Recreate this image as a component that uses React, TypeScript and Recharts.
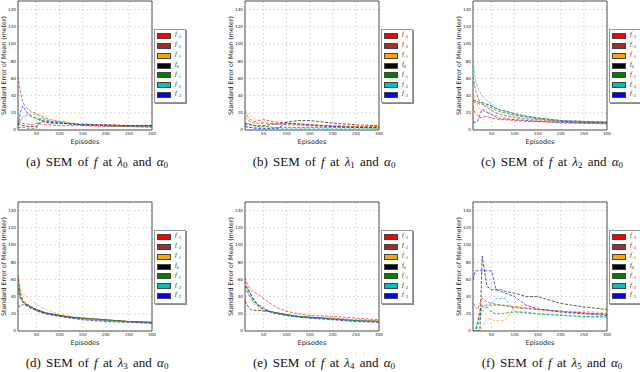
import React from "react"
import { LineChart, Line, XAxis, YAxis, CartesianGrid, ReferenceArea } from "recharts"

// Episodios muestreados (eje X) y marcas de ejes
const episodes = [10, 15, 20, 25, 30, 40, 50, 60, 70, 80, 100, 125, 150, 200, 250, 300]
const xTicks = [50, 100, 150, 200, 250, 300]
const yTicks = [0, 20, 40, 60, 80, 100, 120, 140]

// Series f_{-3} .. f_{+3}
const seriesSubs = ["−3", "−2", "−1", "0", "+1", "+2", "+3"]
const seriesColors = ["#ff0000", "#a52a2a", "#ffa500", "#000000", "#008000", "#00bfbf", "#0000ff"]

// (a) λ0
const semA = [
  [10, 9, 8, 7, 7, 6, 8, 7, 6, 6, 5, 5, 5, 4, 4, 4],
  [62, 45, 33, 28, 25, 21, 19, 16, 14, 12, 10, 8, 7, 6, 5, 5],
  [8, 12, 15, 16, 17, 18, 18, 16, 14, 12, 10, 8, 7, 6, 5, 5],
  [8, 6, 5, 5, 4, 4, 4, 10, 9, 8, 8, 7, 6, 5, 5, 5],
  [3, 3, 3, 3, 2, 2, 2, 14, 12, 10, 9, 7, 6, 5, 4, 3],
  [5, 10, 15, 18, 17, 15, 14, 12, 11, 10, 9, 7, 6, 5, 5, 4],
  [5, 20, 28, 24, 20, 16, 13, 11, 10, 9, 8, 7, 6, 6, 5, 5],
]

// (b) λ1
const semB = [
  [22, 16, 13, 11, 10, 11, 12, 11, 10, 9, 8, 7, 6, 5, 4, 4],
  [15, 12, 10, 9, 8, 8, 8, 8, 7, 7, 6, 6, 5, 4, 4, 3],
  [12, 18, 19, 16, 14, 11, 9, 8, 8, 7, 7, 6, 6, 5, 4, 4],
  [8, 7, 6, 6, 5, 5, 5, 6, 7, 7, 9, 11, 11, 8, 6, 5],
  [5, 8, 7, 6, 5, 4, 4, 4, 3, 3, 3, 3, 3, 3, 3, 2],
  [3, 3, 3, 3, 3, 2, 2, 2, 2, 2, 2, 2, 2, 2, 2, 2],
  [5, 4, 3, 3, 2, 2, 2, 2, 2, 2, 8, 7, 6, 4, 3, 3],
]

// (c) λ2
const semC = [
  [28, 20, 17, 14, 15, 16, 14, 13, 12, 12, 11, 10, 10, 8, 8, 7],
  [62, 48, 38, 33, 30, 26, 23, 20, 18, 17, 15, 13, 12, 10, 9, 8],
  [45, 35, 28, 24, 22, 20, 18, 17, 16, 15, 14, 12, 11, 10, 9, 9],
  [35, 34, 33, 32, 32, 30, 28, 25, 23, 22, 19, 16, 14, 11, 10, 9],
  [33, 32, 31, 30, 30, 28, 26, 23, 21, 20, 17, 15, 13, 10, 9, 9],
  [80, 60, 50, 44, 40, 34, 30, 26, 23, 22, 18, 16, 14, 11, 10, 9],
  [9, 9, 10, 18, 24, 21, 18, 15, 13, 13, 12, 11, 10, 9, 8, 8],
]

// (d) λ3
const semD = [
  [65, 45, 36, 33, 31, 28, 25, 23, 21, 20, 18, 16, 15, 13, 11, 10],
  [62, 40, 33, 31, 30, 27, 24, 22, 21, 20, 18, 16, 14, 12, 11, 10],
  [58, 48, 43, 41, 39, 35, 31, 28, 25, 23, 20, 17, 15, 13, 11, 10],
  [50, 38, 34, 32, 30, 27, 25, 23, 21, 20, 18, 16, 15, 13, 11, 10],
  [60, 42, 36, 33, 31, 28, 25, 23, 21, 20, 18, 16, 15, 13, 11, 10],
  [55, 40, 34, 31, 29, 26, 23, 21, 20, 19, 17, 15, 14, 12, 11, 9],
  [30, 28, 31, 30, 29, 26, 24, 22, 20, 19, 17, 15, 13, 11, 10, 9],
]

// (e) λ4
const semE = [
  [62, 55, 50, 47, 45, 42, 38, 34, 30, 27, 23, 20, 18, 17, 15, 13],
  [58, 50, 44, 40, 36, 30, 27, 24, 22, 21, 19, 17, 16, 15, 13, 12],
  [55, 50, 45, 38, 30, 25, 24, 23, 22, 21, 19, 17, 16, 14, 13, 12],
  [35, 30, 26, 24, 24, 24, 23, 23, 22, 21, 19, 17, 16, 14, 12, 11],
  [52, 45, 40, 36, 33, 28, 25, 23, 22, 21, 19, 17, 16, 14, 12, 11],
  [45, 48, 42, 38, 35, 30, 27, 24, 22, 20, 18, 17, 15, 14, 12, 11],
  [52, 50, 46, 40, 35, 29, 25, 23, 21, 20, 18, 16, 15, 13, 11, 10],
]

// (f) λ5
const semF = [
  [32, 28, 25, 32, 38, 34, 32, 31, 30, 30, 28, 27, 25, 23, 21, 20],
  [0, 0, 10, 25, 30, 30, 30, 30, 30, 29, 27, 26, 25, 23, 21, 19],
  [0, 0, 0, 0, 5, 15, 13, 12, 12, 12, 28, 30, 25, 22, 23, 21],
  [0, 0, 0, 0, 87, 52, 48, 48, 48, 46, 44, 40, 40, 32, 28, 25],
  [0, 0, 10, 20, 28, 28, 22, 20, 20, 21, 22, 21, 20, 18, 17, 16],
  [0, 0, 5, 15, 22, 28, 32, 38, 38, 38, 23, 22, 20, 19, 16, 17],
  [60, 70, 70, 70, 70, 70, 70, 48, 46, 44, 40, 30, 26, 22, 20, 18],
]

const panelData = [semA, semB, semC, semD, semE, semF]
const panelLetters = ["a", "b", "c", "d", "e", "f"]
const panelLambdas = ["0", "1", "2", "3", "4", "5"]

const COL_X = [0, 227, 455]
const ROW_Y = [0, 201]

function buildRows(sem: number[][]) {
  return episodes.map((ep, i) => {
    const row: Record<string, number> = { ep }
    sem.forEach((s, k) => {
      row[`s${k}`] = s[i]
    })
    return row
  })
}

// subíndice que no agranda la línea
const subStyle: React.CSSProperties = {
  fontSize: 9,
  verticalAlign: "baseline",
  position: "relative",
  top: 2,
  lineHeight: 0,
}

function Legend7() {
  return (
    <div
      style={{
        position: "absolute",
        left: 154,
        top: 29,
        width: 30,
        height: 72,
        background: "#fff",
        border: "1px solid #999",
        boxShadow: "1px 1px 0 #888",
      }}
    >
      {seriesSubs.map((sub, k) => (
        <div
          key={k}
          style={{ position: "absolute", left: 2, top: 3 + k * 9.85, height: 6, display: "flex", alignItems: "center" }}
        >
          <div
            style={{
              width: 12,
              height: 4,
              background: seriesColors[k],
              border: "0.8px solid #444",
            }}
          />
          <span
            style={{
              marginLeft: 4,
              fontFamily: "Liberation Serif",
              fontStyle: "italic",
              fontSize: 6.5,
              color: "#222",
              lineHeight: "6px",
            }}
          >
            f<sub style={{ fontSize: 4, fontStyle: "normal" }}>{sub}</sub>
          </span>
        </div>
      ))}
    </div>
  )
}

function Panel({ idx }: { idx: number }) {
  const left = COL_X[idx % 3]
  const top = ROW_Y[Math.floor(idx / 3)]
  const rows = buildRows(panelData[idx])
  return (
    <div style={{ position: "absolute", left, top, width: 190, height: 170 }}>
      <LineChart width={190} height={146} data={rows} margin={{ top: 1, right: 38, bottom: 0, left: 0 }}>
        <CartesianGrid strokeDasharray="2 2" stroke="#c4c4c4" strokeWidth={0.6} />
        <XAxis
          dataKey="ep"
          type="number"
          domain={[10, 300]}
          ticks={xTicks}
          interval={0}
          allowDataOverflow
          axisLine={false}
          tickLine={false}
          tickSize={1}
          tickMargin={1}
          height={16}
          tick={{ fontSize: 4.2, fill: "#222" }}
          label={{ value: "Episodes", position: "insideBottom", offset: 2, style: { fontSize: 6.5, fill: "#222" } }}
        />
        <YAxis
          type="number"
          domain={[0, 150]}
          ticks={yTicks}
          interval={0}
          allowDataOverflow
          axisLine={false}
          tickLine={false}
          tickSize={1}
          tickMargin={1}
          width={18}
          tick={{ fontSize: 4.2, fill: "#222" }}
          label={{
            value: "Standard Error of Mean (meter)",
            angle: -90,
            position: "insideLeft",
            offset: 4,
            style: { fontSize: 6.3, fill: "#222", textAnchor: "middle" },
          }}
        />
        {seriesColors.map((c, k) => (
          <Line
            key={k}
            type="linear"
            dataKey={`s${k}`}
            stroke={c}
            strokeWidth={0.8}
            strokeOpacity={0.8}
            strokeDasharray="3 1.5"
            dot={false}
            isAnimationActive={false}
          />
        ))}
        <ReferenceArea x1={10} x2={300} y1={0} y2={150} fill="none" stroke="#555" strokeWidth={1} />
      </LineChart>
      <Legend7 />
      <div
        style={{
          position: "absolute",
          left: 0,
          width: 194,
          top: 155,
          height: 14,
          lineHeight: "14px",
          textAlign: "center",
          fontFamily: "Liberation Serif",
          fontSize: 13,
          color: "#111",
          whiteSpace: "nowrap",
          wordSpacing: 2,
        }}
      >
        ({panelLetters[idx]}) SEM of <i>f</i> at <i>λ</i>
        <sub style={subStyle}>{panelLambdas[idx]}</sub> and <i>α</i>
        <sub style={subStyle}>0</sub>
      </div>
    </div>
  )
}

export default function App() {
  return (
    <div
      style={{
        position: "absolute",
        left: 0,
        top: 0,
        width: 640,
        height: 372,
        background: "#fff",
        overflow: "hidden",
        fontFamily: "DejaVu Sans",
      }}
    >
      {panelData.map((_, i) => (
        <Panel key={i} idx={i} />
      ))}
    </div>
  )
}
